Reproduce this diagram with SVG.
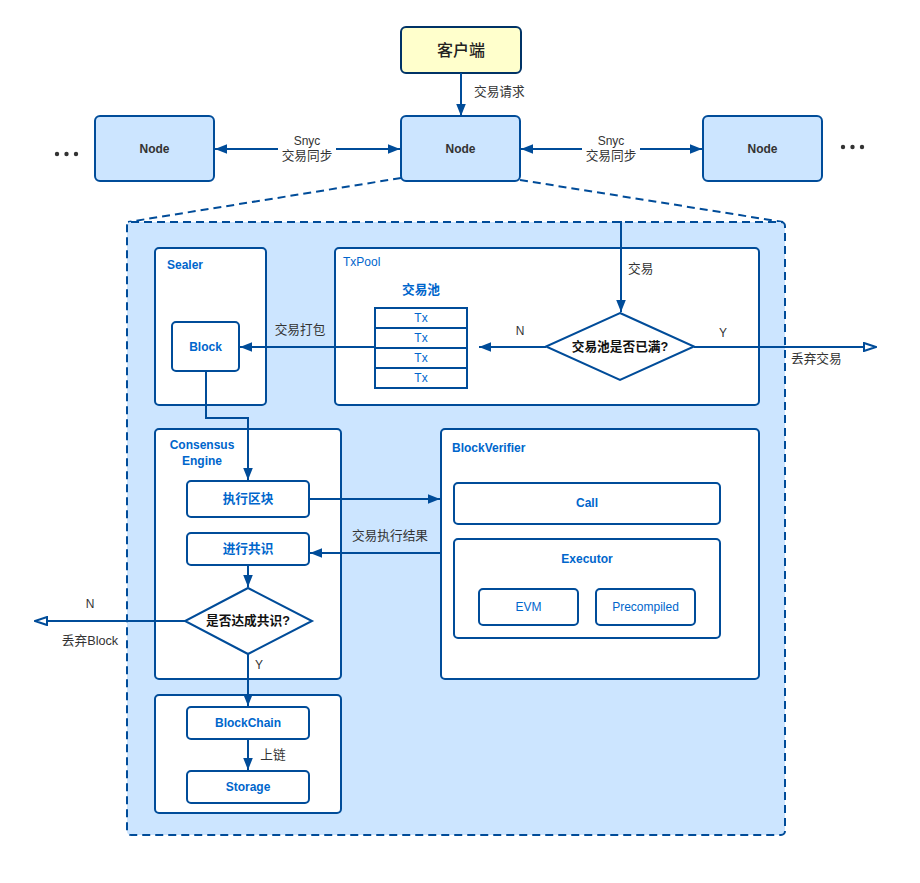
<svg xmlns="http://www.w3.org/2000/svg" width="920" height="883" viewBox="0 0 920 883">
<defs>
<style>
.box{fill:#fff;stroke:#004C99;stroke-width:2}
.node{fill:#cce5ff;stroke:#004C99;stroke-width:2}
.ln{fill:none;stroke:#004C99;stroke-width:2}
.t{font-family:"Liberation Sans","Noto Sans CJK SC",sans-serif;font-size:12px;text-anchor:middle;dominant-baseline:central}
.blue{fill:#0066CC;font-weight:bold}
.dark{fill:#333;font-weight:bold}
.lab{fill:#333}
.cj{font-size:12.7px}
.l{text-anchor:start}
</style>
<marker id="ar" viewBox="0 0 10 10" refX="10" refY="5" markerWidth="12" markerHeight="12" orient="auto-start-reverse" markerUnits="userSpaceOnUse"><path d="M0,1 L10,5 L0,9 Z" fill="#004C99"/></marker>
<marker id="o" viewBox="0 0 14 10" refX="13" refY="5" markerWidth="14" markerHeight="10" orient="auto" markerUnits="userSpaceOnUse"><path d="M1,1 L13,5 L1,9 Z" fill="#fff" stroke="#004C99" stroke-width="2"/></marker>
</defs>

<g id="container">
<path d="M401,178 L128,222" class="ln" stroke-dasharray="8,5"/>
<path d="M520,180 L783,222" class="ln" stroke-dasharray="8,5"/>
<rect x="127" y="222" width="658" height="613" rx="4" fill="#cce5ff" stroke="#004C99" stroke-width="2" stroke-dasharray="8,5"/>
</g>

<g id="client"><rect x="401" y="27" width="120" height="46" rx="5" fill="#ffffcc" stroke="#003366" stroke-width="2"/><text x="461" y="50" class="t" style="font-size:16px;fill:#222;font-weight:500">客户端</text></g>
<g id="node-left"><rect x="95" y="116" width="119" height="65" rx="5" class="node"/><text x="154.5" y="148.5" class="t dark">Node</text></g>
<g id="node-center"><rect x="401" y="116" width="119" height="65" rx="5" class="node"/><text x="460.5" y="148.5" class="t dark">Node</text></g>
<g id="node-right"><rect x="703" y="116" width="119" height="65" rx="5" class="node"/><text x="762.5" y="148.5" class="t dark">Node</text></g>
<g id="dots-left"><circle cx="57" cy="154" r="2.2" fill="#333"/><circle cx="66.5" cy="154" r="2.2" fill="#333"/><circle cx="76" cy="154" r="2.2" fill="#333"/></g>
<g id="dots-right"><circle cx="843" cy="147" r="2.2" fill="#333"/><circle cx="852.5" cy="147" r="2.2" fill="#333"/><circle cx="862" cy="147" r="2.2" fill="#333"/></g>

<g id="sealer"><rect x="155" y="248" width="111" height="157" rx="4" class="box"/><text x="167" y="265" class="t blue l">Sealer</text></g>
<g id="block"><rect x="172" y="322" width="67" height="49" rx="4" class="box"/><text x="205.5" y="346.5" class="t blue">Block</text></g>
<g id="txpool"><rect x="335" y="248" width="424" height="157" rx="4" class="box"/><text x="343" y="262" class="t blue l" style="font-weight:normal">TxPool</text><text x="421" y="290" class="t blue cj">交易池</text></g>
<g id="txtable">
<rect x="375" y="308" width="92" height="80" fill="#fff" stroke="#004C99" stroke-width="2"/>
<path d="M375,328 H467 M375,348 H467 M375,368 H467" class="ln"/>
<text x="421" y="318" class="t" fill="#0066CC">Tx</text><text x="421" y="338" class="t" fill="#0066CC">Tx</text><text x="421" y="358" class="t" fill="#0066CC">Tx</text><text x="421" y="378" class="t" fill="#0066CC">Tx</text>
</g>
<g id="decision-pool"><path d="M620,313 L694,346.5 L620,380 L546,346.5 Z" class="box"/><text x="620" y="346.5" class="t cj" style="fill:#111;font-weight:bold">交易池是否已满?</text></g>

<g id="consensus"><rect x="155" y="429" width="186" height="250" rx="4" class="box"/><text x="202" y="445" class="t blue">Consensus</text><text x="202" y="461" class="t blue">Engine</text></g>
<g id="exec-block"><rect x="187" y="481" width="122" height="36" rx="4" class="box"/><text x="248" y="499" class="t blue cj">执行区块</text></g>
<g id="do-consensus"><rect x="187" y="533" width="122" height="32" rx="4" class="box"/><text x="248" y="549" class="t blue cj">进行共识</text></g>
<g id="decision-consensus"><path d="M248,588 L312,621 L248,654 L185,621 Z" class="box"/><text x="248" y="621" class="t cj" style="fill:#111;font-weight:bold">是否达成共识?</text></g>

<g id="chain-group"><rect x="155" y="695" width="186" height="118" rx="4" class="box"/></g>
<g id="blockchain"><rect x="187" y="707" width="122" height="32" rx="4" class="box"/><text x="248" y="723" class="t blue">BlockChain</text></g>
<g id="storage"><rect x="187" y="771" width="122" height="32" rx="4" class="box"/><text x="248" y="787" class="t blue">Storage</text></g>

<g id="blockverifier"><rect x="441" y="429" width="318" height="250" rx="4" class="box"/><text x="452" y="448" class="t blue l">BlockVerifier</text></g>
<g id="call"><rect x="454" y="483" width="266" height="41" rx="4" class="box"/><text x="587" y="503" class="t blue">Call</text></g>
<g id="executor"><rect x="454" y="539" width="266" height="99" rx="4" class="box"/><text x="587" y="559" class="t blue">Executor</text></g>
<g id="evm"><rect x="479" y="589" width="99" height="36" rx="4" class="box"/><text x="528.5" y="607" class="t" fill="#0066CC">EVM</text></g>
<g id="precompiled"><rect x="596" y="589" width="99" height="36" rx="4" class="box"/><text x="645.5" y="607" class="t" fill="#0066CC">Precompiled</text></g>

<g id="connectors">
<path d="M461,73 V116" class="ln" marker-end="url(#ar)"/>
<text x="474" y="92" class="t lab l cj">交易请求</text>
<path d="M215,149 H400" class="ln" marker-start="url(#ar)" marker-end="url(#ar)"/>
<rect x="278" y="133" width="58" height="30" fill="#fff"/>
<text x="307" y="141" class="t lab">Snyc</text><text x="307" y="156" class="t lab cj">交易同步</text>
<path d="M521,149 H702" class="ln" marker-start="url(#ar)" marker-end="url(#ar)"/>
<rect x="582" y="133" width="58" height="30" fill="#fff"/>
<text x="611" y="141" class="t lab">Snyc</text><text x="611" y="156" class="t lab cj">交易同步</text>

<path d="M621,221 V312" class="ln" marker-end="url(#ar)"/>
<text x="628" y="269" class="t lab l cj">交易</text>
<path d="M546,347 H479" class="ln" marker-end="url(#ar)"/>
<text x="520" y="331" class="t lab">N</text>
<path d="M694,347 H876" class="ln" marker-end="url(#o)"/>
<text x="723" y="333" class="t lab">Y</text>
<text x="791" y="359" class="t lab l cj">丢弃交易</text>
<path d="M375,347 H240" class="ln" marker-end="url(#ar)"/>
<text x="300" y="330" class="t lab cj">交易打包</text>

<path d="M206,371 V418 H248 V480" class="ln" marker-end="url(#ar)"/>
<path d="M309,499 H440" class="ln" marker-end="url(#ar)"/>
<path d="M441,553 H310" class="ln" marker-end="url(#ar)"/>
<text x="390" y="536" class="t lab cj">交易执行结果</text>
<path d="M248,565 V587" class="ln" marker-end="url(#ar)"/>
<path d="M185,621 H35" class="ln" marker-end="url(#o)"/>
<text x="90" y="604" class="t lab">N</text>
<text x="90" y="641" class="t lab cj">丢弃Block</text>
<path d="M248,654 V706" class="ln" marker-end="url(#ar)"/>
<text x="259" y="665" class="t lab">Y</text>
<path d="M248,739 V770" class="ln" marker-end="url(#ar)"/>
<text x="273" y="755" class="t lab cj">上链</text>
</g>
</svg>
